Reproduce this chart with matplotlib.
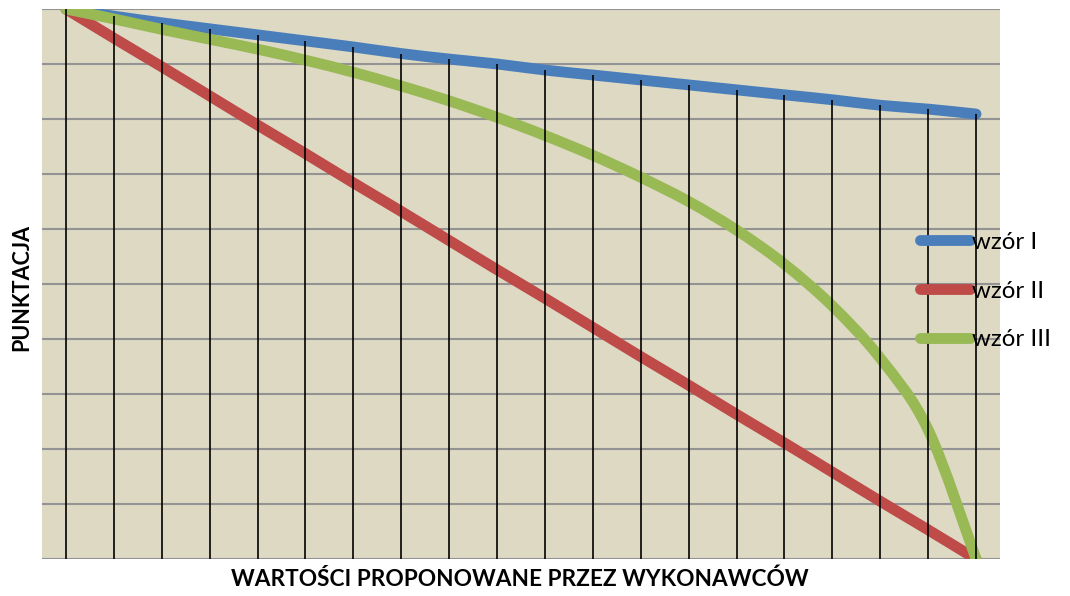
import matplotlib
matplotlib.use("Agg")
import matplotlib.pyplot as plt
from matplotlib.path import Path
from matplotlib.patches import PathPatch
from matplotlib.lines import Line2D

# CONSTANTS
BACKGROUND_COLOR = "#DDD9C3"
GRID_COLOR = "#939393"
FONT_FAMILY = ["Lato", "DejaVu Sans"]
LINE_WIDTH = 7.8

# DATA
categories = list(range(20))
wzor_1 = [100, 98.7, 97.5, 96.4, 95.3, 94.2, 93.1, 91.9, 90.9, 90.0,
          88.9, 88.0, 87.1, 86.2, 85.3, 84.4, 83.5, 82.5, 81.8, 80.9]
wzor_2 = [100, 94.7, 89.5, 84.2, 78.9, 73.7, 68.4, 63.2, 57.9, 52.6,
          47.4, 42.1, 36.8, 31.6, 26.3, 21.1, 15.8, 10.5, 5.3, 0]
wzor_3 = [100, 98.2, 96.3, 94.5, 92.7, 90.7, 88.5, 86.0, 83.3, 80.3,
          77.0, 73.4, 69.4, 65.0, 59.8, 53.6, 46.0, 36.5, 23.5, 0]
series_labels = ["wzór I", "wzór II", "wzór III"]
series_colors = ["#4A7EBB", "#BE4B48", "#98B954"]


def smooth_path(xs, ys):
    # Excel-style smoothed line: Catmull-Rom segments as cubic Beziers
    pts = list(zip(xs, ys))
    n = len(pts)
    verts = [pts[0]]
    codes = [Path.MOVETO]
    for i in range(n - 1):
        p0 = pts[max(i - 1, 0)]
        p1 = pts[i]
        p2 = pts[i + 1]
        p3 = pts[min(i + 2, n - 1)]
        c1 = (p1[0] + (p2[0] - p0[0]) / 6, p1[1] + (p2[1] - p0[1]) / 6)
        c2 = (p2[0] - (p3[0] - p1[0]) / 6, p2[1] - (p3[1] - p1[1]) / 6)
        verts += [c1, c2, p2]
        codes += [Path.CURVE4] * 3
    return Path(verts, codes)


# FIGURE
fig = plt.figure(figsize=(10.7, 5.96), dpi=100)
fig.set_facecolor("white")
ax = fig.add_axes([42 / 1070, 37 / 596, 958 / 1070, 550 / 596])
ax.set_facecolor(BACKGROUND_COLOR)

for spine in ax.spines.values():
    spine.set_visible(False)

ax.set_xlim(-0.5, 19.5)
ax.set_ylim(0, 100)
ax.set_yticks(range(0, 101, 10))
ax.set_xticks([])
ax.tick_params(axis="y", length=0, labelleft=False)
ax.set_axisbelow(True)
ax.yaxis.grid(color=GRID_COLOR, linewidth=1.5)

# Series lines
handles = []
for values, label, color in zip([wzor_1, wzor_2, wzor_3], series_labels, series_colors):
    patch = PathPatch(smooth_path(categories, values), fill=False, edgecolor=color,
                      linewidth=LINE_WIDTH, capstyle="round", joinstyle="round", zorder=3)
    ax.add_patch(patch)
    handles.append(Line2D([], [], color=color, linewidth=LINE_WIDTH, label=label,
                          solid_capstyle="round"))

# Drop lines from highest series down to the axis
ax.vlines(categories, 0, wzor_1, color="black", linewidth=1.2, zorder=5)

# Legend
fs = 17.3
leg = fig.legend(handles=handles, loc="center left",
                 bbox_to_anchor=(920 / 1070, (596 - 291) / 596),
                 frameon=False, borderpad=0, borderaxespad=0,
                 handlelength=50 / (fs / 0.72), handletextpad=0.1,
                 labelspacing=1.15, prop={"family": FONT_FAMILY, "size": fs})

# Axis titles
fig.text(520 / 1070, (596 - 579) / 596, "WARTOŚCI PROPONOWANE PRZEZ WYKONAWCÓW",
         ha="center", va="center", fontsize=16.3, fontweight="bold", family=FONT_FAMILY)
fig.text(22 / 1070, (596 - 287) / 596, "PUNKTACJA", rotation=90,
         ha="center", va="center", fontsize=15.5, fontweight="bold", family=FONT_FAMILY)

fig.savefig("out.png", dpi=100)
